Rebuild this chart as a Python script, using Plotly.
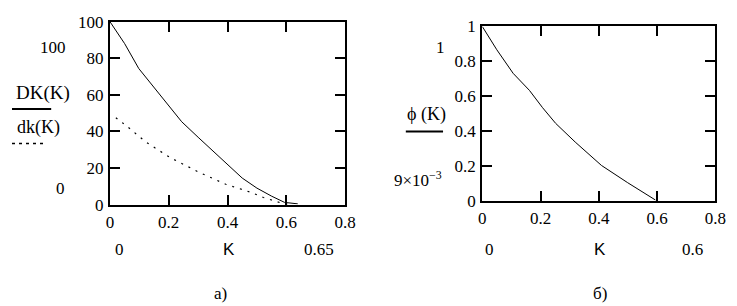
import plotly.graph_objects as go

# Panel a): DK(K) solid and dk(K) dotted
k_dk = [0.0, 0.05, 0.098, 0.17, 0.244, 0.3, 0.389, 0.45, 0.5, 0.55, 0.594, 0.639]
DK = [100.0, 88.0, 74.4, 59.8, 45.3, 36.8, 23.8, 14.5, 9.0, 4.6, 1.2, 0.4]

k_dkl = [0.02, 0.061, 0.122, 0.206, 0.3, 0.394, 0.478, 0.522, 0.59, 0.61]
dk = [47.5, 42.4, 34.2, 25.6, 17.9, 11.1, 6.8, 3.9, 0.5, 0.2]

# Panel б): phi(K)
k_phi = [0.0, 0.05, 0.106, 0.162, 0.207, 0.252, 0.319, 0.409, 0.499, 0.594]
phi = [1.0, 0.866, 0.731, 0.633, 0.534, 0.444, 0.337, 0.203, 0.104, 0.005]

x_ticks = [0, 0.2, 0.4, 0.6, 0.8]
y_ticks_a = [0, 20, 40, 60, 80, 100]
y_ticks_b = [0, 0.2, 0.4, 0.6, 0.8, 1]

W, H = 737, 306
SERIF = "Liberation Serif"
SANS = "Liberation Sans"

fig = go.Figure()
fig.add_trace(go.Scatter(x=k_dk, y=DK, mode="lines", line=dict(color="black", width=1),
                         xaxis="x", yaxis="y", showlegend=False))
fig.add_trace(go.Scatter(x=k_dkl, y=dk, mode="lines",
                         line=dict(color="black", width=1.2, dash="2px,6px"),
                         xaxis="x", yaxis="y", showlegend=False))
fig.add_trace(go.Scatter(x=k_phi, y=phi, mode="lines", line=dict(color="black", width=1),
                         xaxis="x2", yaxis="y2", showlegend=False))

def px(x):
    return x / W

def py(y):
    return 1 - y / H

axis_common = dict(showgrid=False, zeroline=False, showline=True, linecolor="black",
                   linewidth=2, mirror="ticks", ticks="inside", ticklen=10, tickwidth=2,
                   tickcolor="black", tickfont=dict(family=SERIF, size=17, color="black"),
                   ticklabelstandoff=1)

fig.update_layout(
    width=W, height=H,
    margin=dict(l=0, r=0, t=0, b=0),
    paper_bgcolor="white", plot_bgcolor="white",
    xaxis=dict(domain=[px(100), px(340)], range=[0, 0.8], tickvals=x_ticks,
               ticktext=["0", "0.2", "0.4", "0.6", "0.8"], anchor="y", **axis_common),
    yaxis=dict(domain=[py(200), py(5)], range=[0, 100], tickvals=y_ticks_a,
               anchor="x", **axis_common),
    xaxis2=dict(domain=[px(480), px(718)], range=[0, 0.8], tickvals=x_ticks,
                ticktext=["0", "0.2", "0.4", "0.6", "0.8"], anchor="y2", **axis_common),
    yaxis2=dict(domain=[py(196), py(10)], range=[0, 1], tickvals=y_ticks_b,
                ticktext=["0", "0.2", "0.4", "0.6", "0.8", "1"], anchor="x2", **axis_common),
)

def txt(x, y, s, size=18, family=SERIF, xanchor="center"):
    fig.add_annotation(x=px(x), y=py(y), xref="paper", yref="paper", text=s,
                       showarrow=False, xanchor=xanchor, yanchor="middle",
                       font=dict(family=family, size=size, color="black"))

# Left panel labels
txt(42, 32, "100", size=17)
txt(32, 81, "DK(K)", size=19)
txt(27, 118, "dk(K)", size=18)
txt(50, 183, "0", size=17)
txt(110, 248, "0", size=17)
txt(222, 248, "K", size=17, family=SANS)
txt(313, 248, "0.65", size=17)
txt(213, 295, "a)", size=17)

# Right panel labels
txt(437, 33, "1", size=17)
txt(423, 104, "ϕ (K)", size=18)
txt(414, 173, "9×10<sup>−3</sup>", size=17)
txt(487, 248, "0", size=17)
txt(600, 248, "K", size=17, family=SANS)
txt(695, 248, "0.6", size=17)
txt(600, 295, "б)", size=17)

# Legend line samples
fig.add_shape(type="line", xref="paper", yref="paper", x0=px(0), x1=px(40), y0=py(98), y1=py(98),
              line=dict(color="black", width=2))
fig.add_shape(type="line", xref="paper", yref="paper", x0=px(0), x1=px(35), y0=py(135), y1=py(135),
              line=dict(color="black", width=1.5, dash="3px,4px"))
fig.add_shape(type="line", xref="paper", yref="paper", x0=px(402), x1=px(440), y0=py(122), y1=py(122),
              line=dict(color="black", width=2))

fig.write_html("out.html")
